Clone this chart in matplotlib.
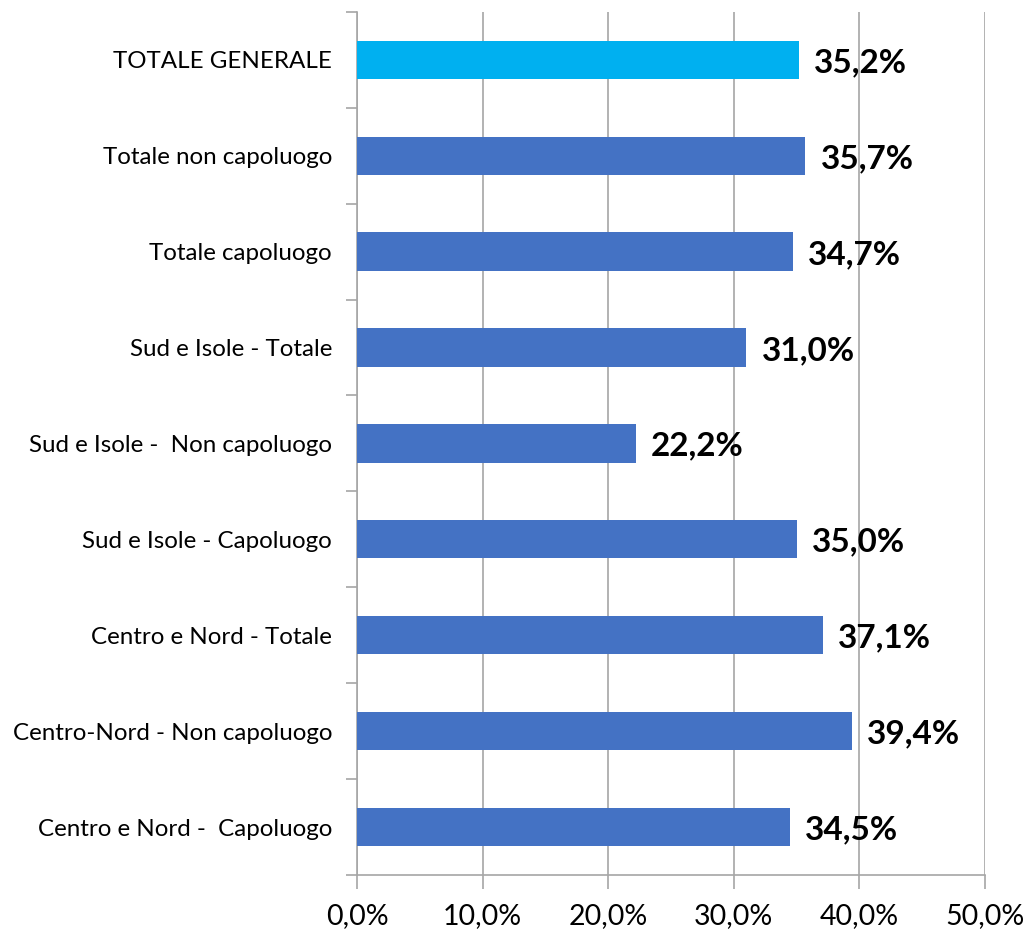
import numpy as np
import matplotlib.pyplot as plt
from matplotlib.ticker import FixedLocator

# Data, bottom to top
categories = [
    'Centro e Nord -  Capoluogo',
    'Centro-Nord - Non capoluogo',
    'Centro e Nord - Totale',
    'Sud e Isole - Capoluogo',
    'Sud e Isole -  Non capoluogo',
    'Sud e Isole - Totale',
    'Totale capoluogo',
    'Totale non capoluogo',
    'TOTALE GENERALE',
]
values = [34.5, 39.4, 37.1, 35.0, 22.2, 31.0, 34.7, 35.7, 35.2]
x_ticks = [0, 10, 20, 30, 40, 50]


def main():
    plt.rcParams['font.family'] = ['Lato', 'DejaVu Sans']
    grey = '#a6a6a6'

    fig = plt.figure(figsize=(10.31, 9.34), dpi=100)
    ax = fig.add_axes([0.3463, 0.0632, 0.6091, 0.9241])

    colors = ['#4472c4'] * (len(values) - 1) + ['#00b0f0']
    y = np.arange(len(categories))
    ax.barh(y, values, height=0.4, color=colors, zorder=3)

    for yi, v in zip(y, values):
        ax.text(v + 1.2, yi - 0.03, f'{v:.1f}%'.replace('.', ','), va='center',
                ha='left', fontsize=24, fontweight='bold', color='black')

    ax.set_xlim(0, 50)
    ax.set_ylim(-0.5, len(categories) - 0.5)
    ax.set_xticks(x_ticks)
    ax.set_xticklabels([f'{t:.1f}%'.replace('.', ',') for t in x_ticks],
                       fontsize=20.5)
    ax.set_yticks(y)
    ax.set_yticklabels(categories, fontsize=17.4)
    ax.yaxis.set_minor_locator(FixedLocator(np.arange(-0.5, len(categories), 1)))

    ax.tick_params(axis='y', which='major', length=0, pad=18)
    ax.tick_params(axis='y', which='minor', length=8, color=grey, width=1.2)
    ax.tick_params(axis='x', length=10, color=grey, width=1.2, pad=10)

    ax.grid(axis='x', color=grey, linewidth=1.2, zorder=0)
    for side in ['top', 'right']:
        ax.spines[side].set_visible(False)
    for side in ['left', 'bottom']:
        ax.spines[side].set_color(grey)
        ax.spines[side].set_linewidth(1.2)

    fig.savefig('out.png', dpi=100)


if __name__ == '__main__':
    main()
